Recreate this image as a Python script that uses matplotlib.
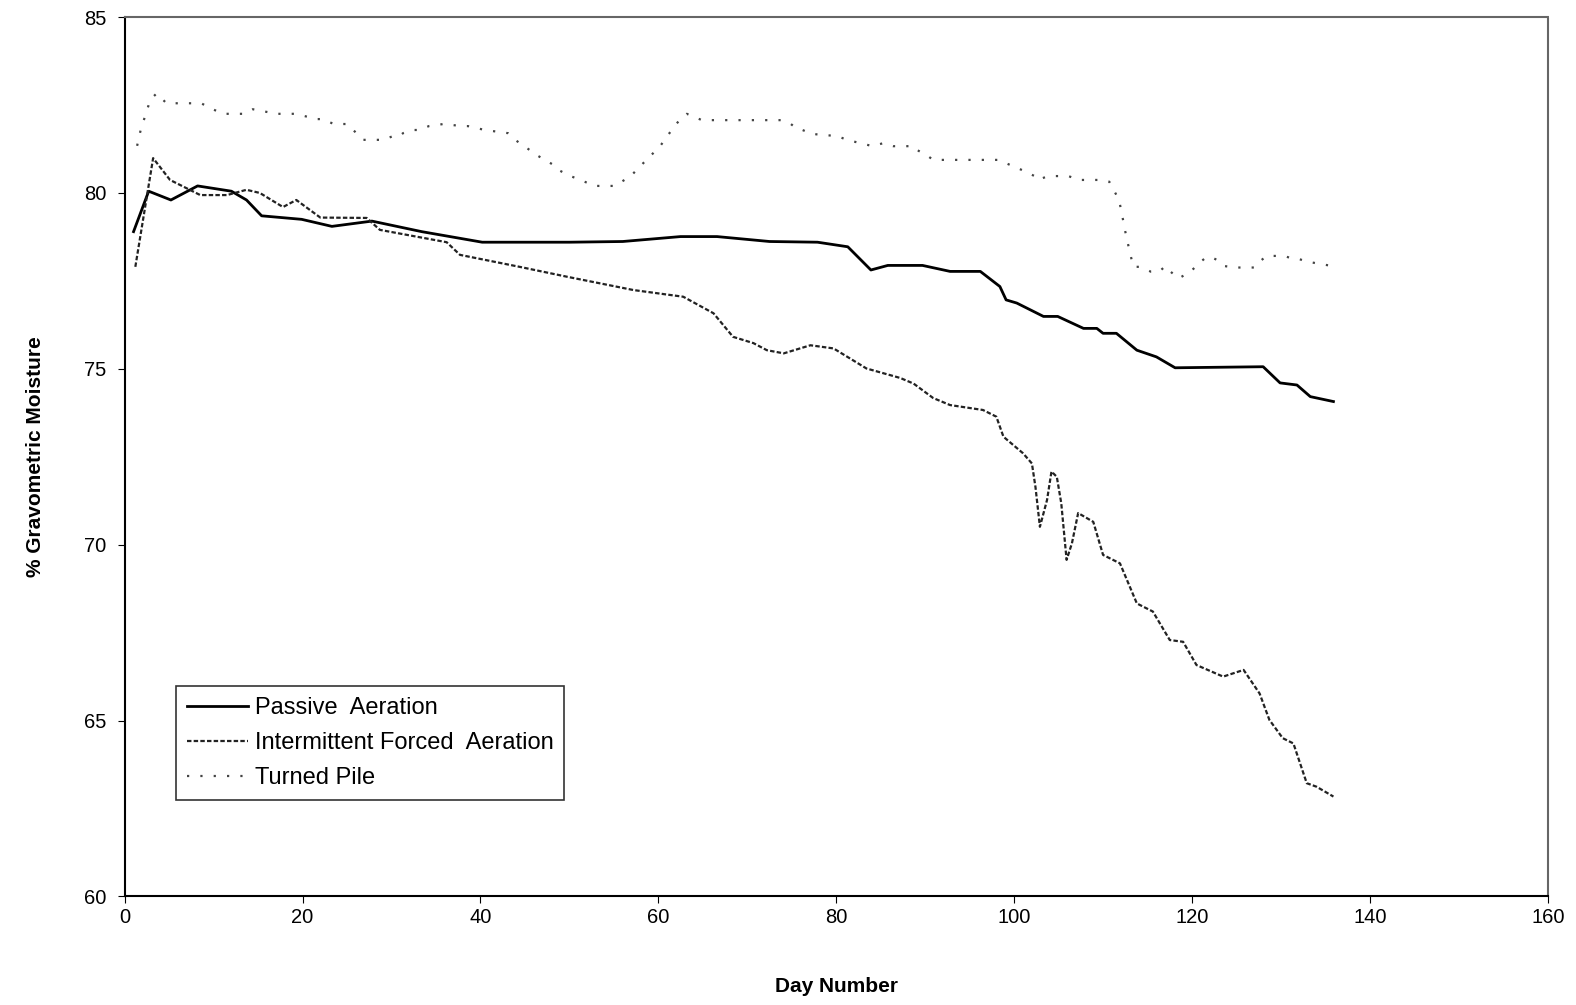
import matplotlib
matplotlib.use("Agg")
import matplotlib.pyplot as plt

plt.rcParams['font.family'] = ['Liberation Sans', 'DejaVu Sans']

# ------------------------------
# data
# ------------------------------
passive_day = [1.0, 2.7, 5.2, 8.2, 12.0, 13.7, 15.4, 19.9, 23.3, 27.8, 33.4, 36.8,
               40.2, 50.0, 56.0, 62.5, 66.6, 72.5, 77.9, 81.3, 83.9, 85.8, 89.7,
               92.8, 96.2, 98.4, 99.1, 100.3, 103.3, 104.9, 107.8, 109.3, 110.0,
               111.5, 113.8, 116.0, 118.1, 128.0, 129.9, 131.8, 133.3, 135.9]
passive_val = [78.9, 80.05, 79.8, 80.2, 80.05, 79.8, 79.35, 79.25, 79.05, 79.2, 78.9, 78.75,
               78.6, 78.6, 78.62, 78.76, 78.76, 78.62, 78.6, 78.47, 77.81, 77.94, 77.94,
               77.77, 77.77, 77.34, 76.96, 76.87, 76.49, 76.49, 76.15, 76.15, 76.01,
               76.01, 75.53, 75.34, 75.03, 75.06, 74.6, 74.54, 74.21, 74.07]

forced_day = [1.2, 3.2, 5.1, 8.5, 11.5, 13.7, 15.2, 17.8, 19.3, 22.0, 27.2, 28.7, 36.2,
              37.7, 44.4, 49.7, 57.2, 62.8, 66.2, 68.4, 70.7, 72.2, 74.1, 77.1, 79.7,
              83.4, 87.2, 88.7, 90.9, 92.8, 96.5, 98.0, 98.8, 101.0, 102.0, 102.4,
              102.9, 103.7, 104.2, 104.8, 105.3, 105.9, 106.5, 107.2, 108.9, 110.0,
              111.9, 113.8, 115.6, 117.5, 119.0, 120.5, 123.5, 125.8, 127.6, 128.7,
              130.2, 131.4, 132.9, 134.0, 135.9]
forced_val = [77.9, 80.99, 80.37, 79.94, 79.94, 80.09, 80.0, 79.6, 79.8, 79.3, 79.29, 78.95, 78.6,
              78.24, 77.9, 77.62, 77.24, 77.05, 76.58, 75.91, 75.73, 75.53, 75.44, 75.67, 75.58,
              75.01, 74.74, 74.58, 74.17, 73.97, 73.83, 73.64, 73.07, 72.6, 72.31, 71.64,
              70.51, 71.27, 72.08, 71.93, 71.18, 69.57, 70.04, 70.9, 70.65, 69.71,
              69.47, 68.33, 68.1, 67.29, 67.24, 66.58, 66.25, 66.44, 65.77, 65.02,
              64.5, 64.35, 63.22, 63.12, 62.84]

turned_day = [1.4, 1.8, 2.9, 3.6, 4.7, 8.6, 9.9, 11.1, 12.6, 13.4, 14.4, 17.1, 17.8, 19.2,
              21.6, 22.3, 23.5, 24.1, 25.0, 25.7, 26.8, 29.1, 30.2, 30.9, 31.3, 32.4,
              33.1, 34.2, 35.1, 35.8, 36.9, 37.9, 38.6, 40.5, 43.1, 43.9, 46.5, 48.4,
              48.8, 50.1, 51.3, 51.7, 52.9, 53.5, 55.1, 56.9, 58.0, 60.2, 61.9, 62.4,
              63.2, 64.9, 65.4, 69.9, 71.5, 73.8, 74.9, 75.5, 76.2, 77.3, 78.4, 80.1,
              81.2, 84.1, 85.2, 86.4, 87.9, 88.7, 89.1, 90.3, 90.9, 98.2, 99.8, 100.9,
              102.3, 102.7, 103.8, 105.5, 106.1, 107.3, 107.9, 109.6, 110.7, 111.8,
              112.4, 112.5, 112.9, 113.4, 114.1, 115.4, 116.3, 117.0, 117.6, 118.5,
              119.8, 120.4, 121.0, 121.6, 122.2, 123.2, 123.7, 124.8, 127.0, 127.6,
              128.4, 129.3, 129.9, 130.6, 131.2, 131.8, 132.9, 135.6]
turned_val = [81.34, 81.79, 82.66, 82.83, 82.55, 82.55, 82.38, 82.25, 82.25, 82.25, 82.38, 82.25, 82.25, 82.25,
              82.1, 82.1, 81.96, 81.96, 81.96, 81.79, 81.51, 81.51, 81.62, 81.62, 81.7, 81.79,
              81.79, 81.9, 81.93, 81.96, 81.93, 81.9, 81.9, 81.79, 81.7, 81.51, 81.05, 80.77,
              80.65, 80.48, 80.37, 80.32, 80.2, 80.2, 80.2, 80.48, 80.77, 81.33, 81.93, 82.07,
              82.25, 82.07, 82.07, 82.07, 82.07, 82.07, 81.96, 81.84, 81.79, 81.68, 81.65, 81.62,
              81.51, 81.33, 81.41, 81.33, 81.33, 81.33, 81.22, 81.05, 80.94, 80.94, 80.77, 80.65,
              80.48, 80.37, 80.48, 80.48, 80.48, 80.37, 80.37, 80.37, 80.32, 79.8,
              79.04, 78.9, 78.44, 77.9, 77.9, 77.76, 77.76, 77.92, 77.76, 77.57,
              77.76, 77.9, 78.05, 78.17, 78.17, 78.05, 77.92, 77.88, 77.88, 78.05,
              78.21, 78.21, 78.21, 78.19, 78.14, 78.14, 78.05, 77.93]

x_ticks = [0, 20, 40, 60, 80, 100, 120, 140, 160]
y_ticks = [60, 65, 70, 75, 80, 85]

# ------------------------------
# plot
# ------------------------------
fig = plt.figure(figsize=(15.76, 10.05), dpi=100)
ax = fig.add_axes([0.0791, 0.108, 0.9030, 0.875])

ax.plot(passive_day, passive_val, color='black', lw=2.0, label='Passive  Aeration')
ax.plot(forced_day, forced_val, color='#222222', lw=1.6, linestyle=(0, (2, 1)),
        label='Intermittent Forced  Aeration')
ax.plot(turned_day, turned_val, color='#444444', lw=1.6, linestyle=(0, (1, 5)),
        label='Turned Pile')

ax.set_xlim(0, 160)
ax.set_ylim(60, 85)
ax.set_xticks(x_ticks)
ax.set_yticks(y_ticks)
ax.tick_params(labelsize=14.5, direction='out', length=5, color='black')
ax.tick_params(axis='y', pad=8)

ax.set_xlabel('Day Number', fontsize=15, fontweight='bold', labelpad=36)
ax.set_ylabel('% Gravometric Moisture', fontsize=15, fontweight='bold', labelpad=28)

ax.spines['left'].set_linewidth(1.5)
ax.spines['bottom'].set_linewidth(1.5)
for s in ['top', 'right']:
    ax.spines[s].set_linestyle((0, (1, 1)))
    ax.spines[s].set_color('#666666')
    ax.spines[s].set_linewidth(1.5)

leg = ax.legend(loc='upper left', bbox_to_anchor=(0.1116, 0.317),
                bbox_transform=fig.transFigure, fontsize=17, frameon=True,
                fancybox=False, borderaxespad=0, handlelength=2.6,
                handletextpad=0.3, borderpad=0.45, labelspacing=0.55)
leg.get_frame().set_edgecolor('black')
leg.get_frame().set_linewidth(1.2)

fig.savefig('out.png', dpi=100)
